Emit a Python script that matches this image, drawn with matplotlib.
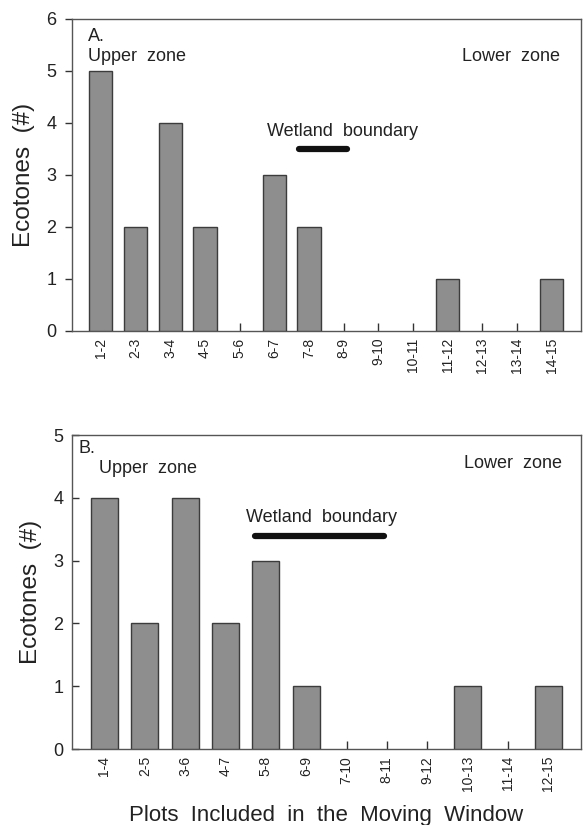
import numpy as np
import matplotlib.pyplot as plt

plt.rcParams['font.family'] = ['Liberation Sans', 'DejaVu Sans']

# Panel A: 2-plot moving window
labels_a = ['1-2', '2-3', '3-4', '4-5', '5-6', '6-7', '7-8', '8-9', '9-10',
            '10-11', '11-12', '12-13', '13-14', '14-15']
counts_a = [5, 2, 4, 2, 0, 3, 2, 0, 0, 0, 1, 0, 0, 1]
boundary_a = [6.7, 8.1]   # x span of wetland boundary, y=3.5

# Panel B: 4-plot moving window
labels_b = ['1-4', '2-5', '3-6', '4-7', '5-8', '6-9', '7-10', '8-11', '9-12',
            '10-13', '11-14', '12-15']
counts_b = [4, 2, 4, 2, 3, 1, 0, 0, 0, 1, 0, 1]
boundary_b = [4.73, 7.92]  # y=3.39

barcol = '#8e8e8e'
edgecol = '#3c3c3c'
spinecol = '#555555'
txtcol = '#222222'
fs_txt = 13

fig = plt.figure(figsize=(5.84, 8.25), dpi=100)
axA = fig.add_axes([0.1228, 0.599, 0.872, 0.378])
axB = fig.add_axes([0.1228, 0.0921, 0.872, 0.3806])


def style(ax, labels, counts, ymax, pad, ydir):
    x = np.arange(1, len(labels) + 1)
    bars = ax.bar(x, counts, width=0.67, color=barcol, edgecolor=edgecol,
                  linewidth=1.0, zorder=3)
    for b, c in zip(bars, counts):
        if c == 0:
            b.set_visible(False)
    ax.set_xlim(1 - pad, len(labels) + pad)
    ax.set_ylim(0, ymax)
    ax.set_xticks(x)
    ax.set_xticklabels(labels, rotation=90, fontsize=10, color=txtcol)
    ax.set_yticks(range(0, ymax + 1))
    ax.tick_params(axis='x', direction='in', length=6, width=1.0,
                   color='#333333', pad=5)
    ax.tick_params(axis='y', direction=ydir, length=5, width=1.0,
                   color='#333333', labelsize=13, labelcolor=txtcol, pad=6)
    for s in ax.spines.values():
        s.set_color(spinecol)
        s.set_linewidth(1.0)
    ax.set_ylabel('Ecotones  (#)', fontsize=17.5, color=txtcol, labelpad=8)


style(axA, labels_a, counts_a, 6, 0.84, 'out')
style(axB, labels_b, counts_b, 5, 0.81, 'in')

# Annotations panel A
axA.text(0.63, 5.83, 'A.', fontsize=fs_txt, color=txtcol, va='top')
axA.text(0.63, 5.27, 'Upper  zone', fontsize=fs_txt, color=txtcol, va='center')
axA.text(14.23, 5.27, 'Lower  zone', fontsize=fs_txt, color=txtcol,
         va='center', ha='right')
axA.text(7.96, 3.83, 'Wetland  boundary', fontsize=fs_txt, color=txtcol,
         va='center', ha='center')
axA.plot(boundary_a, [3.5, 3.5], color='#111111', lw=4.5,
         solid_capstyle='round', zorder=4)

# Annotations panel B
axB.text(0.35, 4.92, 'B.', fontsize=fs_txt, color=txtcol, va='top')
axB.text(0.87, 4.47, 'Upper  zone', fontsize=fs_txt, color=txtcol, va='center')
axB.text(12.35, 4.55, 'Lower  zone', fontsize=fs_txt, color=txtcol,
         va='center', ha='right')
axB.text(6.39, 3.68, 'Wetland  boundary', fontsize=fs_txt, color=txtcol,
         va='center', ha='center')
axB.plot(boundary_b, [3.39, 3.39], color='#111111', lw=4.5,
         solid_capstyle='round', zorder=4)

axB.set_xlabel('Plots  Included  in  the  Moving  Window', fontsize=16,
               color=txtcol, labelpad=10)

fig.savefig('out.png', dpi=100)
